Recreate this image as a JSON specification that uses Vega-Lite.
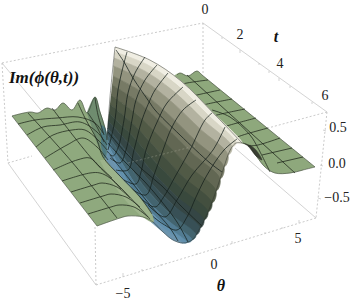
{"$schema":"https://vega.github.io/schema/vega-lite/v6.json","width":355,"height":302,"padding":0,"autosize":{"type":"fit","contains":"padding"},"background":"white","config":{"view":{"stroke":null},"range":{"category":["#f0eee3","#d8d6c6","#b3b2a0","#93947f","#777a65","#626753","#515a46","#434f3f","#39493d","#354645","#385056","#43646f","#527c93","#6290ad","#6b93ad","#8ea87c","#8fa97e","#6f8c6f","#4f7a80","#9db48b","#3a3f33"]}},
"datasets":{
"edgesDashed":[{"id":"a","n":0,"sx":2,"sy":63},{"id":"a","n":1,"sx":203,"sy":23},{"id":"b","n":0,"sx":2,"sy":63},{"id":"b","n":1,"sx":8,"sy":163},{"id":"c","n":0,"sx":8,"sy":163},{"id":"c","n":1,"sx":32,"sy":156},{"id":"d","n":0,"sx":327,"sy":112},{"id":"d","n":1,"sx":268,"sy":128},{"id":"e","n":0,"sx":203,"sy":23},{"id":"e","n":1,"sx":203,"sy":74},{"id":"f","n":0,"sx":96,"sy":285},{"id":"f","n":1,"sx":95,"sy":226},{"id":"g","n":0,"sx":96,"sy":285},{"id":"g","n":1,"sx":316,"sy":218},{"id":"h","n":0,"sx":327,"sy":112},{"id":"h","n":1,"sx":316,"sy":218}],
"edgesSolid":[{"id":"a","n":0,"sx":203,"sy":23},{"id":"a","n":1,"sx":327,"sy":112},{"id":"b","n":0,"sx":2,"sy":63},{"id":"b","n":1,"sx":45,"sy":115},{"id":"c","n":0,"sx":8,"sy":163},{"id":"c","n":1,"sx":96,"sy":285},{"id":"d","n":0,"sx":316,"sy":218},{"id":"d","n":1,"sx":235,"sy":148},{"id":"t1","n":0,"sx":222,"sy":37},{"id":"t1","n":1,"sx":222,"sy":39},{"id":"t2","n":0,"sx":240,"sy":50},{"id":"t2","n":1,"sx":240,"sy":53},{"id":"t3","n":0,"sx":259,"sy":63},{"id":"t3","n":1,"sx":259,"sy":65},{"id":"t4","n":0,"sx":269,"sy":71},{"id":"t4","n":1,"sx":269,"sy":73},{"id":"t5","n":0,"sx":279,"sy":78},{"id":"t5","n":1,"sx":279,"sy":81},{"id":"t6","n":0,"sx":290,"sy":86},{"id":"t6","n":1,"sx":290,"sy":88},{"id":"t7","n":0,"sx":312,"sy":102},{"id":"t7","n":1,"sx":312,"sy":104},{"id":"u1","n":0,"sx":123,"sy":277},{"id":"u1","n":1,"sx":123,"sy":273},{"id":"u2","n":0,"sx":142,"sy":271},{"id":"u2","n":1,"sx":142,"sy":269},{"id":"u3","n":0,"sx":161,"sy":266},{"id":"u3","n":1,"sx":161,"sy":264},{"id":"u4","n":0,"sx":197,"sy":255},{"id":"u4","n":1,"sx":197,"sy":253},{"id":"u5","n":0,"sx":232,"sy":244},{"id":"u5","n":1,"sx":232,"sy":241},{"id":"u6","n":0,"sx":265,"sy":234},{"id":"u6","n":1,"sx":265,"sy":232},{"id":"u7","n":0,"sx":282,"sy":229},{"id":"u7","n":1,"sx":282,"sy":227},{"id":"u8","n":0,"sx":299,"sy":223},{"id":"u8","n":1,"sx":299,"sy":220},{"id":"z1","n":0,"sx":323,"sy":130},{"id":"z1","n":1,"sx":326,"sy":131},{"id":"z2","n":0,"sx":320,"sy":165},{"id":"z2","n":1,"sx":323,"sy":166},{"id":"z3","n":0,"sx":318,"sy":198},{"id":"z3","n":1,"sx":321,"sy":199}],
"polyBack":[{"id":"r","n":0,"sx":315,"sy":167,"band":"b15"},{"id":"r","n":1,"sx":202,"sy":75,"band":"b15"},{"id":"r","n":2,"sx":197,"sy":71,"band":"b15"},{"id":"r","n":3,"sx":188,"sy":76,"band":"b15"},{"id":"r","n":4,"sx":180,"sy":73,"band":"b15"},{"id":"r","n":5,"sx":172,"sy":78,"band":"b15"},{"id":"r","n":6,"sx":165,"sy":90,"band":"b15"},{"id":"r","n":7,"sx":242,"sy":143,"band":"b15"},{"id":"r","n":8,"sx":248,"sy":145,"band":"b15"},{"id":"r","n":9,"sx":257,"sy":157,"band":"b15"},{"id":"r","n":10,"sx":265,"sy":167,"band":"b15"},{"id":"r","n":11,"sx":275,"sy":173,"band":"b15"},{"id":"r","n":12,"sx":290,"sy":173,"band":"b15"},{"id":"r","n":13,"sx":303,"sy":170,"band":"b15"},{"id":"s","n":0,"sx":243,"sy":143,"band":"b20"},{"id":"s","n":1,"sx":248,"sy":146,"band":"b20"},{"id":"s","n":2,"sx":256,"sy":156,"band":"b20"},{"id":"s","n":3,"sx":262,"sy":160,"band":"b20"},{"id":"s","n":4,"sx":256,"sy":150,"band":"b20"},{"id":"s","n":5,"sx":250,"sy":145,"band":"b20"}],
"meshBack":[{"id":"a","n":0,"sx":175,"sy":86},{"id":"a","n":1,"sx":187,"sy":83},{"id":"a","n":2,"sx":208,"sy":80},{"id":"b","n":0,"sx":185,"sy":98},{"id":"b","n":1,"sx":197,"sy":95},{"id":"b","n":2,"sx":220,"sy":90},{"id":"c","n":0,"sx":190,"sy":109},{"id":"c","n":1,"sx":203,"sy":105},{"id":"c","n":2,"sx":232,"sy":99},{"id":"d","n":0,"sx":204,"sy":119},{"id":"d","n":1,"sx":217,"sy":115},{"id":"d","n":2,"sx":245,"sy":109},{"id":"e","n":0,"sx":217,"sy":129},{"id":"e","n":1,"sx":230,"sy":125},{"id":"e","n":2,"sx":256,"sy":118},{"id":"f","n":0,"sx":232,"sy":139},{"id":"f","n":1,"sx":243,"sy":135},{"id":"f","n":2,"sx":268,"sy":128},{"id":"g","n":0,"sx":248,"sy":146},{"id":"g","n":1,"sx":258,"sy":145},{"id":"g","n":2,"sx":280,"sy":138},{"id":"h","n":0,"sx":262,"sy":155},{"id":"h","n":1,"sx":292,"sy":148},{"id":"i","n":0,"sx":277,"sy":163},{"id":"i","n":1,"sx":303,"sy":157},{"id":"p1","n":0,"sx":187,"sy":75},{"id":"p1","n":1,"sx":295,"sy":173},{"id":"p2","n":0,"sx":212,"sy":110},{"id":"p2","n":1,"sx":230,"sy":117},{"id":"p2","n":2,"sx":250,"sy":135},{"id":"p2","n":3,"sx":258,"sy":148},{"id":"p2","n":4,"sx":270,"sy":172}],
"flank":[
{"id":"f00","n":0,"sx":115,"sy":47,"band":"b00"},{"id":"f00","n":1,"sx":149.8,"sy":60,"band":"b00"},{"id":"f00","n":2,"sx":181,"sy":81,"band":"b00"},{"id":"f00","n":3,"sx":213.3,"sy":113,"band":"b00"},{"id":"f00","n":4,"sx":242,"sy":143,"band":"b00"},{"id":"f00","n":5,"sx":236,"sy":143,"band":"b00"},{"id":"f00","n":6,"sx":208,"sy":115.1,"band":"b00"},{"id":"f00","n":7,"sx":176.9,"sy":85,"band":"b00"},{"id":"f00","n":8,"sx":147.2,"sy":64.6,"band":"b00"},{"id":"f00","n":9,"sx":114.5,"sy":52,"band":"b00"},
{"id":"f01","n":0,"sx":114.5,"sy":52,"band":"b01"},{"id":"f01","n":1,"sx":147.2,"sy":64.6,"band":"b01"},{"id":"f01","n":2,"sx":176.9,"sy":85,"band":"b01"},{"id":"f01","n":3,"sx":208,"sy":115.1,"band":"b01"},{"id":"f01","n":4,"sx":236,"sy":143,"band":"b01"},{"id":"f01","n":5,"sx":232,"sy":147,"band":"b01"},{"id":"f01","n":6,"sx":204.2,"sy":120.5,"band":"b01"},{"id":"f01","n":7,"sx":173.8,"sy":91.5,"band":"b01"},{"id":"f01","n":8,"sx":145.1,"sy":71.2,"band":"b01"},{"id":"f01","n":9,"sx":114,"sy":58,"band":"b01"},
{"id":"f02","n":0,"sx":114,"sy":58,"band":"b02"},{"id":"f02","n":1,"sx":145.1,"sy":71.2,"band":"b02"},{"id":"f02","n":2,"sx":173.8,"sy":91.5,"band":"b02"},{"id":"f02","n":3,"sx":204.2,"sy":120.5,"band":"b02"},{"id":"f02","n":4,"sx":232,"sy":147,"band":"b02"},{"id":"f02","n":5,"sx":228,"sy":155,"band":"b02"},{"id":"f02","n":6,"sx":200.5,"sy":129.3,"band":"b02"},{"id":"f02","n":7,"sx":170.7,"sy":101,"band":"b02"},{"id":"f02","n":8,"sx":143,"sy":80,"band":"b02"},{"id":"f02","n":9,"sx":113.5,"sy":66,"band":"b02"},
{"id":"f03","n":0,"sx":113.5,"sy":66,"band":"b03"},{"id":"f03","n":1,"sx":143,"sy":80,"band":"b03"},{"id":"f03","n":2,"sx":170.7,"sy":101,"band":"b03"},{"id":"f03","n":3,"sx":200.5,"sy":129.3,"band":"b03"},{"id":"f03","n":4,"sx":228,"sy":155,"band":"b03"},{"id":"f03","n":5,"sx":224,"sy":167,"band":"b03"},{"id":"f03","n":6,"sx":196.7,"sy":141.7,"band":"b03"},{"id":"f03","n":7,"sx":167.6,"sy":113.5,"band":"b03"},{"id":"f03","n":8,"sx":140.9,"sy":91.5,"band":"b03"},{"id":"f03","n":9,"sx":113,"sy":76,"band":"b03"},
{"id":"f04","n":0,"sx":113,"sy":76,"band":"b04"},{"id":"f04","n":1,"sx":140.9,"sy":91.5,"band":"b04"},{"id":"f04","n":2,"sx":167.6,"sy":113.5,"band":"b04"},{"id":"f04","n":3,"sx":196.7,"sy":141.7,"band":"b04"},{"id":"f04","n":4,"sx":224,"sy":167,"band":"b04"},{"id":"f04","n":5,"sx":220,"sy":179,"band":"b04"},{"id":"f04","n":6,"sx":192.8,"sy":153.8,"band":"b04"},{"id":"f04","n":7,"sx":164.2,"sy":125.5,"band":"b04"},{"id":"f04","n":8,"sx":138.4,"sy":102,"band":"b04"},{"id":"f04","n":9,"sx":112,"sy":85,"band":"b04"},
{"id":"f05","n":0,"sx":112,"sy":85,"band":"b05"},{"id":"f05","n":1,"sx":138.4,"sy":102,"band":"b05"},{"id":"f05","n":2,"sx":164.2,"sy":125.5,"band":"b05"},{"id":"f05","n":3,"sx":192.8,"sy":153.8,"band":"b05"},{"id":"f05","n":4,"sx":220,"sy":179,"band":"b05"},{"id":"f05","n":5,"sx":216,"sy":191,"band":"b05"},{"id":"f05","n":6,"sx":188.9,"sy":166.1,"band":"b05"},{"id":"f05","n":7,"sx":160.9,"sy":138,"band":"b05"},{"id":"f05","n":8,"sx":136,"sy":113.6,"band":"b05"},{"id":"f05","n":9,"sx":111,"sy":95,"band":"b05"},
{"id":"f06","n":0,"sx":111,"sy":95,"band":"b06"},{"id":"f06","n":1,"sx":136,"sy":113.6,"band":"b06"},{"id":"f06","n":2,"sx":160.9,"sy":138,"band":"b06"},{"id":"f06","n":3,"sx":188.9,"sy":166.1,"band":"b06"},{"id":"f06","n":4,"sx":216,"sy":191,"band":"b06"},{"id":"f06","n":5,"sx":212,"sy":203,"band":"b06"},{"id":"f06","n":6,"sx":185,"sy":178.3,"band":"b06"},{"id":"f06","n":7,"sx":157.5,"sy":150,"band":"b06"},{"id":"f06","n":8,"sx":133.5,"sy":124.3,"band":"b06"},{"id":"f06","n":9,"sx":110,"sy":104,"band":"b06"},
{"id":"f07","n":0,"sx":110,"sy":104,"band":"b07"},{"id":"f07","n":1,"sx":133.5,"sy":124.3,"band":"b07"},{"id":"f07","n":2,"sx":157.5,"sy":150,"band":"b07"},{"id":"f07","n":3,"sx":185,"sy":178.3,"band":"b07"},{"id":"f07","n":4,"sx":212,"sy":203,"band":"b07"},{"id":"f07","n":5,"sx":208,"sy":212,"band":"b07"},{"id":"f07","n":6,"sx":181.1,"sy":188.1,"band":"b07"},{"id":"f07","n":7,"sx":154.1,"sy":160.5,"band":"b07"},{"id":"f07","n":8,"sx":131,"sy":134.2,"band":"b07"},{"id":"f07","n":9,"sx":109,"sy":113,"band":"b07"},
{"id":"f08","n":0,"sx":109,"sy":113,"band":"b08"},{"id":"f08","n":1,"sx":131,"sy":134.2,"band":"b08"},{"id":"f08","n":2,"sx":154.1,"sy":160.5,"band":"b08"},{"id":"f08","n":3,"sx":181.1,"sy":188.1,"band":"b08"},{"id":"f08","n":4,"sx":208,"sy":212,"band":"b08"},{"id":"f08","n":5,"sx":204,"sy":220,"band":"b08"},{"id":"f08","n":6,"sx":177.2,"sy":197,"band":"b08"},{"id":"f08","n":7,"sx":150.8,"sy":170,"band":"b08"},{"id":"f08","n":8,"sx":128.6,"sy":143.1,"band":"b08"},{"id":"f08","n":9,"sx":108,"sy":121,"band":"b08"},
{"id":"f09","n":0,"sx":108,"sy":121,"band":"b09"},{"id":"f09","n":1,"sx":128.6,"sy":143.1,"band":"b09"},{"id":"f09","n":2,"sx":150.8,"sy":170,"band":"b09"},{"id":"f09","n":3,"sx":177.2,"sy":197,"band":"b09"},{"id":"f09","n":4,"sx":204,"sy":220,"band":"b09"},{"id":"f09","n":5,"sx":200,"sy":228,"band":"b09"},{"id":"f09","n":6,"sx":173.5,"sy":205.6,"band":"b09"},{"id":"f09","n":7,"sx":147.6,"sy":179,"band":"b09"},{"id":"f09","n":8,"sx":126.5,"sy":151.3,"band":"b09"},{"id":"f09","n":9,"sx":107.5,"sy":128,"band":"b09"},
{"id":"f10","n":0,"sx":107.5,"sy":128,"band":"b10"},{"id":"f10","n":1,"sx":126.5,"sy":151.3,"band":"b10"},{"id":"f10","n":2,"sx":147.6,"sy":179,"band":"b10"},{"id":"f10","n":3,"sx":173.5,"sy":205.6,"band":"b10"},{"id":"f10","n":4,"sx":200,"sy":228,"band":"b10"},{"id":"f10","n":5,"sx":196,"sy":235,"band":"b10"},{"id":"f10","n":6,"sx":169.6,"sy":213.2,"band":"b10"},{"id":"f10","n":7,"sx":144.5,"sy":187,"band":"b10"},{"id":"f10","n":8,"sx":124.4,"sy":158.5,"band":"b10"},{"id":"f10","n":9,"sx":107,"sy":134,"band":"b10"},
{"id":"f11","n":0,"sx":107,"sy":134,"band":"b11"},{"id":"f11","n":1,"sx":124.4,"sy":158.5,"band":"b11"},{"id":"f11","n":2,"sx":144.5,"sy":187,"band":"b11"},{"id":"f11","n":3,"sx":169.6,"sy":213.2,"band":"b11"},{"id":"f11","n":4,"sx":196,"sy":235,"band":"b11"},{"id":"f11","n":5,"sx":192,"sy":240,"band":"b11"},{"id":"f11","n":6,"sx":165.9,"sy":218.8,"band":"b11"},{"id":"f11","n":7,"sx":141.5,"sy":193,"band":"b11"},{"id":"f11","n":8,"sx":122.3,"sy":163.6,"band":"b11"},{"id":"f11","n":9,"sx":106.5,"sy":138,"band":"b11"},
{"id":"f12","n":0,"sx":106.5,"sy":138,"band":"b12"},{"id":"f12","n":1,"sx":122.3,"sy":163.6,"band":"b12"},{"id":"f12","n":2,"sx":141.5,"sy":193,"band":"b12"},{"id":"f12","n":3,"sx":165.9,"sy":218.8,"band":"b12"},{"id":"f12","n":4,"sx":192,"sy":240,"band":"b12"},{"id":"f12","n":5,"sx":187,"sy":242.5,"band":"b12"},{"id":"f12","n":6,"sx":161.4,"sy":222.2,"band":"b12"},{"id":"f12","n":7,"sx":137.9,"sy":197.3,"band":"b12"},{"id":"f12","n":8,"sx":120,"sy":167.5,"band":"b12"},{"id":"f12","n":9,"sx":106,"sy":141,"band":"b12"},
{"id":"f13","n":0,"sx":106,"sy":141,"band":"b13"},{"id":"f13","n":1,"sx":120,"sy":167.5,"band":"b13"},{"id":"f13","n":2,"sx":137.9,"sy":197.3,"band":"b13"},{"id":"f13","n":3,"sx":161.4,"sy":222.2,"band":"b13"},{"id":"f13","n":4,"sx":187,"sy":242.5,"band":"b13"},{"id":"f13","n":5,"sx":183,"sy":243,"band":"b13"},{"id":"f13","n":6,"sx":158,"sy":224,"band":"b13"},{"id":"f13","n":7,"sx":135,"sy":200,"band":"b13"},{"id":"f13","n":8,"sx":118,"sy":170,"band":"b13"},{"id":"f13","n":9,"sx":106,"sy":143,"band":"b13"},
{"id":"v","n":0,"sx":106,"sy":143,"band":"b14"},{"id":"v","n":1,"sx":118,"sy":170,"band":"b14"},{"id":"v","n":2,"sx":135,"sy":200,"band":"b14"},{"id":"v","n":3,"sx":158,"sy":224,"band":"b14"},{"id":"v","n":4,"sx":183,"sy":243,"band":"b14"},{"id":"v","n":5,"sx":173,"sy":240,"band":"b14"},{"id":"v","n":6,"sx":163,"sy":232,"band":"b14"},{"id":"v","n":7,"sx":150,"sy":221,"band":"b14"},{"id":"v","n":8,"sx":122,"sy":196,"band":"b14"},{"id":"v","n":9,"sx":98,"sy":155,"band":"b14"}],
"meshFlank":[
{"id":"j1","n":0,"sx":127,"sy":52},{"id":"j1","n":1,"sx":123,"sy":67},{"id":"j1","n":2,"sx":118,"sy":90},{"id":"j1","n":3,"sx":115,"sy":120},{"id":"j1","n":4,"sx":108,"sy":150},
{"id":"j2","n":0,"sx":145,"sy":57},{"id":"j2","n":1,"sx":135,"sy":73},{"id":"j2","n":2,"sx":128,"sy":93},{"id":"j2","n":3,"sx":124,"sy":120},{"id":"j2","n":4,"sx":118,"sy":148},{"id":"j2","n":5,"sx":113,"sy":156},{"id":"j2","n":6,"sx":106,"sy":150},
{"id":"j3","n":0,"sx":157,"sy":65},{"id":"j3","n":1,"sx":145,"sy":80},{"id":"j3","n":2,"sx":136,"sy":100},{"id":"j3","n":3,"sx":132,"sy":120},{"id":"j3","n":4,"sx":126,"sy":150},{"id":"j3","n":5,"sx":120,"sy":163},{"id":"j3","n":6,"sx":110,"sy":158},
{"id":"j4","n":0,"sx":168,"sy":73},{"id":"j4","n":1,"sx":155,"sy":90},{"id":"j4","n":2,"sx":150,"sy":100},{"id":"j4","n":3,"sx":142,"sy":120},{"id":"j4","n":4,"sx":134,"sy":150},{"id":"j4","n":5,"sx":128,"sy":170},{"id":"j4","n":6,"sx":116,"sy":170},
{"id":"j5","n":0,"sx":183,"sy":87},{"id":"j5","n":1,"sx":167,"sy":103},{"id":"j5","n":2,"sx":158,"sy":120},{"id":"j5","n":3,"sx":146,"sy":150},{"id":"j5","n":4,"sx":141,"sy":172},{"id":"j5","n":5,"sx":136,"sy":184},{"id":"j5","n":6,"sx":124,"sy":180},
{"id":"j6","n":0,"sx":196,"sy":100},{"id":"j6","n":1,"sx":183,"sy":110},{"id":"j6","n":2,"sx":172,"sy":127},{"id":"j6","n":3,"sx":163,"sy":150},{"id":"j6","n":4,"sx":154,"sy":175},{"id":"j6","n":5,"sx":146,"sy":195},{"id":"j6","n":6,"sx":130,"sy":188},
{"id":"j7","n":0,"sx":212,"sy":113},{"id":"j7","n":1,"sx":205,"sy":120},{"id":"j7","n":2,"sx":190,"sy":150},{"id":"j7","n":3,"sx":176,"sy":175},{"id":"j7","n":4,"sx":163,"sy":198},{"id":"j7","n":5,"sx":155,"sy":207},{"id":"j7","n":6,"sx":138,"sy":196},
{"id":"j8","n":0,"sx":225,"sy":127},{"id":"j8","n":1,"sx":213,"sy":150},{"id":"j8","n":2,"sx":192,"sy":175},{"id":"j8","n":3,"sx":177,"sy":200},{"id":"j8","n":4,"sx":165,"sy":217},{"id":"j8","n":5,"sx":148,"sy":205},
{"id":"j9","n":0,"sx":237,"sy":139},{"id":"j9","n":1,"sx":224,"sy":150},{"id":"j9","n":2,"sx":207,"sy":175},{"id":"j9","n":3,"sx":196,"sy":197},{"id":"j9","n":4,"sx":187,"sy":217},{"id":"j9","n":5,"sx":177,"sy":230},{"id":"j9","n":6,"sx":163,"sy":224},{"id":"j9","n":7,"sx":150,"sy":214},
{"id":"F1","n":0,"sx":108,"sy":132},{"id":"F1","n":1,"sx":125,"sy":152},{"id":"F1","n":2,"sx":143,"sy":170},{"id":"F1","n":3,"sx":162,"sy":186},{"id":"F1","n":4,"sx":180,"sy":205},{"id":"F1","n":5,"sx":202,"sy":226},
{"id":"F2","n":0,"sx":108,"sy":143},{"id":"F2","n":1,"sx":125,"sy":162},{"id":"F2","n":2,"sx":145,"sy":182},{"id":"F2","n":3,"sx":162,"sy":202},{"id":"F2","n":4,"sx":177,"sy":222},{"id":"F2","n":5,"sx":188,"sy":242},
{"id":"F3","n":0,"sx":116,"sy":50},{"id":"F3","n":1,"sx":124,"sy":62},{"id":"F3","n":2,"sx":133,"sy":78},{"id":"F3","n":3,"sx":150,"sy":103},{"id":"F3","n":4,"sx":155,"sy":110},{"id":"F3","n":5,"sx":180,"sy":135},{"id":"F3","n":6,"sx":210,"sy":163},{"id":"F3","n":7,"sx":222,"sy":172},
{"id":"L4","n":0,"sx":110,"sy":155},{"id":"L4","n":1,"sx":130,"sy":180},{"id":"L4","n":2,"sx":150,"sy":205},{"id":"L4","n":3,"sx":170,"sy":228},{"id":"L4","n":4,"sx":178,"sy":241}],
"polyFront":[
{"id":"l","n":0,"sx":12,"sy":116,"band":"b16"},{"id":"l","n":1,"sx":30,"sy":112,"band":"b16"},{"id":"l","n":2,"sx":38,"sy":113,"band":"b16"},{"id":"l","n":3,"sx":47,"sy":108,"band":"b16"},{"id":"l","n":4,"sx":55,"sy":110,"band":"b16"},{"id":"l","n":5,"sx":63,"sy":103,"band":"b16"},{"id":"l","n":6,"sx":72,"sy":110,"band":"b16"},{"id":"l","n":7,"sx":80,"sy":100,"band":"b16"},{"id":"l","n":8,"sx":87,"sy":113,"band":"b16"},{"id":"l","n":9,"sx":95,"sy":97,"band":"b16"},{"id":"l","n":10,"sx":100,"sy":112,"band":"b16"},{"id":"l","n":11,"sx":105,"sy":128,"band":"b16"},{"id":"l","n":12,"sx":107,"sy":140,"band":"b16"},{"id":"l","n":13,"sx":105,"sy":158,"band":"b16"},{"id":"l","n":14,"sx":120,"sy":177,"band":"b16"},{"id":"l","n":15,"sx":140,"sy":198,"band":"b16"},{"id":"l","n":16,"sx":152,"sy":215,"band":"b16"},{"id":"l","n":17,"sx":153,"sy":222,"band":"b16"},{"id":"l","n":18,"sx":143,"sy":217,"band":"b16"},{"id":"l","n":19,"sx":128,"sy":216,"band":"b16"},{"id":"l","n":20,"sx":120,"sy":218,"band":"b16"},{"id":"l","n":21,"sx":97,"sy":226,"band":"b16"},
{"id":"m","n":0,"sx":87,"sy":113,"band":"b17"},{"id":"m","n":1,"sx":95,"sy":97,"band":"b17"},{"id":"m","n":2,"sx":100,"sy":112,"band":"b17"},{"id":"m","n":3,"sx":105,"sy":128,"band":"b17"},{"id":"m","n":4,"sx":107,"sy":140,"band":"b17"},{"id":"m","n":5,"sx":105,"sy":158,"band":"b17"},{"id":"m","n":6,"sx":98,"sy":145,"band":"b17"},{"id":"m","n":7,"sx":92,"sy":128,"band":"b17"},
{"id":"q","n":0,"sx":101,"sy":125,"band":"b18"},{"id":"q","n":1,"sx":105,"sy":128,"band":"b18"},{"id":"q","n":2,"sx":107,"sy":140,"band":"b18"},{"id":"q","n":3,"sx":105,"sy":158,"band":"b18"},{"id":"q","n":4,"sx":101,"sy":145,"band":"b18"},
{"id":"w","n":0,"sx":105,"sy":160,"band":"b19"},{"id":"w","n":1,"sx":120,"sy":177,"band":"b19"},{"id":"w","n":2,"sx":140,"sy":198,"band":"b19"},{"id":"w","n":3,"sx":152,"sy":215,"band":"b19"},{"id":"w","n":4,"sx":153,"sy":222,"band":"b19"},{"id":"w","n":5,"sx":143,"sy":217,"band":"b19"},{"id":"w","n":6,"sx":128,"sy":203,"band":"b19"},{"id":"w","n":7,"sx":112,"sy":182,"band":"b19"},{"id":"w","n":8,"sx":100,"sy":160,"band":"b19"}],
"meshFront":[
{"id":"j1","n":0,"sx":18,"sy":124},{"id":"j1","n":1,"sx":35,"sy":120},{"id":"j1","n":2,"sx":57,"sy":118},{"id":"j1","n":3,"sx":78,"sy":117},{"id":"j1","n":4,"sx":95,"sy":123},{"id":"j1","n":5,"sx":103,"sy":133},
{"id":"j2","n":0,"sx":27,"sy":135},{"id":"j2","n":1,"sx":43,"sy":127},{"id":"j2","n":2,"sx":60,"sy":125},{"id":"j2","n":3,"sx":80,"sy":122},{"id":"j2","n":4,"sx":97,"sy":132},{"id":"j2","n":5,"sx":107,"sy":145},
{"id":"j3","n":0,"sx":36,"sy":147},{"id":"j3","n":1,"sx":53,"sy":135},{"id":"j3","n":2,"sx":72,"sy":130},{"id":"j3","n":3,"sx":85,"sy":130},{"id":"j3","n":4,"sx":98,"sy":140},{"id":"j3","n":5,"sx":107,"sy":150},
{"id":"j4","n":0,"sx":45,"sy":158},{"id":"j4","n":1,"sx":67,"sy":145},{"id":"j4","n":2,"sx":83,"sy":138},{"id":"j4","n":3,"sx":97,"sy":147},{"id":"j4","n":4,"sx":108,"sy":160},
{"id":"j5","n":0,"sx":53,"sy":170},{"id":"j5","n":1,"sx":77,"sy":160},{"id":"j5","n":2,"sx":90,"sy":158},{"id":"j5","n":3,"sx":100,"sy":167},{"id":"j5","n":4,"sx":112,"sy":178},
{"id":"j6","n":0,"sx":62,"sy":181},{"id":"j6","n":1,"sx":90,"sy":173},{"id":"j6","n":2,"sx":100,"sy":173},{"id":"j6","n":3,"sx":110,"sy":178},{"id":"j6","n":4,"sx":121,"sy":189},
{"id":"j7","n":0,"sx":71,"sy":192},{"id":"j7","n":1,"sx":94,"sy":185},{"id":"j7","n":2,"sx":102,"sy":183},{"id":"j7","n":3,"sx":117,"sy":187},{"id":"j7","n":4,"sx":130,"sy":198},
{"id":"j8","n":0,"sx":80,"sy":203},{"id":"j8","n":1,"sx":103,"sy":196},{"id":"j8","n":2,"sx":111,"sy":194},{"id":"j8","n":3,"sx":126,"sy":197},{"id":"j8","n":4,"sx":140,"sy":207},
{"id":"j9","n":0,"sx":88,"sy":214},{"id":"j9","n":1,"sx":111,"sy":207},{"id":"j9","n":2,"sx":119,"sy":205},{"id":"j9","n":3,"sx":134,"sy":207},{"id":"j9","n":4,"sx":148,"sy":217},
{"id":"L1","n":0,"sx":28,"sy":113},{"id":"L1","n":1,"sx":72,"sy":162},{"id":"L1","n":2,"sx":117,"sy":218},
{"id":"L2","n":0,"sx":52,"sy":108},{"id":"L2","n":1,"sx":93,"sy":160},{"id":"L2","n":2,"sx":123,"sy":190},{"id":"L2","n":3,"sx":150,"sy":219},
{"id":"L3","n":0,"sx":78,"sy":103},{"id":"L3","n":1,"sx":85,"sy":118},{"id":"L3","n":2,"sx":97,"sy":140},{"id":"L3","n":3,"sx":103,"sy":157},{"id":"L3","n":4,"sx":120,"sy":176},{"id":"L3","n":5,"sx":140,"sy":197},{"id":"L3","n":6,"sx":152,"sy":214},
{"id":"L4","n":0,"sx":88,"sy":113},{"id":"L4","n":1,"sx":97,"sy":127},{"id":"L4","n":2,"sx":104,"sy":142},
{"id":"L5","n":0,"sx":95,"sy":98},{"id":"L5","n":1,"sx":98,"sy":115},{"id":"L5","n":2,"sx":104,"sy":135}],
"outline":[
{"id":"near","n":0,"sx":97,"sy":226},{"id":"near","n":1,"sx":120,"sy":218},{"id":"near","n":2,"sx":128,"sy":216},{"id":"near","n":3,"sx":143,"sy":217},{"id":"near","n":4,"sx":153,"sy":222},{"id":"near","n":5,"sx":163,"sy":232},{"id":"near","n":6,"sx":173,"sy":240},{"id":"near","n":7,"sx":183,"sy":243},{"id":"near","n":8,"sx":192,"sy":240},{"id":"near","n":9,"sx":200,"sy":228},{"id":"near","n":10,"sx":208,"sy":212},{"id":"near","n":11,"sx":216,"sy":191},{"id":"near","n":12,"sx":224,"sy":167},{"id":"near","n":13,"sx":228,"sy":155},{"id":"near","n":14,"sx":232,"sy":147},{"id":"near","n":15,"sx":236,"sy":143},{"id":"near","n":16,"sx":242,"sy":143},{"id":"near","n":17,"sx":248,"sy":145},{"id":"near","n":18,"sx":257,"sy":157},{"id":"near","n":19,"sx":265,"sy":167},{"id":"near","n":20,"sx":275,"sy":173},{"id":"near","n":21,"sx":290,"sy":173},{"id":"near","n":22,"sx":303,"sy":170},{"id":"near","n":23,"sx":315,"sy":167},
{"id":"right","n":0,"sx":315,"sy":167},{"id":"right","n":1,"sx":202,"sy":75},
{"id":"left","n":0,"sx":97,"sy":226},{"id":"left","n":1,"sx":12,"sy":116},
{"id":"crest","n":0,"sx":107,"sy":140},{"id":"crest","n":1,"sx":110,"sy":97},{"id":"crest","n":2,"sx":115,"sy":47},{"id":"crest2","n":0,"sx":115,"sy":47},{"id":"crest2","n":1,"sx":149.8,"sy":60},{"id":"crest2","n":2,"sx":181,"sy":81},{"id":"crest2","n":3,"sx":213.3,"sy":113},{"id":"crest2","n":4,"sx":242,"sy":143},
{"id":"far","n":0,"sx":12,"sy":116},{"id":"far","n":1,"sx":30,"sy":112},{"id":"far","n":2,"sx":38,"sy":113},{"id":"far","n":3,"sx":47,"sy":108},{"id":"far","n":4,"sx":55,"sy":110},{"id":"far","n":5,"sx":63,"sy":103},{"id":"far","n":6,"sx":72,"sy":110},{"id":"far","n":7,"sx":80,"sy":100},{"id":"far","n":8,"sx":87,"sy":113},{"id":"far","n":9,"sx":95,"sy":97},{"id":"far","n":10,"sx":100,"sy":112},{"id":"far","n":11,"sx":105,"sy":128},{"id":"far","n":12,"sx":107,"sy":140},
{"id":"far2","n":0,"sx":202,"sy":75},{"id":"far2","n":1,"sx":197,"sy":71},{"id":"far2","n":2,"sx":188,"sy":76},{"id":"far2","n":3,"sx":180,"sy":73},{"id":"far2","n":4,"sx":177,"sy":75}],
"seeThrough":[{"id":"x","n":0,"sx":128,"sy":163},{"id":"x","n":1,"sx":195,"sy":146}],
"ticksText":[{"sx":205,"sy":10,"label":"0"},{"sx":240,"sy":35,"label":"2"},{"sx":280,"sy":64,"label":"4"},{"sx":325,"sy":96,"label":"6"},{"sx":338,"sy":128,"label":"0.5"},{"sx":337,"sy":164,"label":"0.0"},{"sx":337,"sy":198,"label":"−0.5"},{"sx":123,"sy":294,"label":"−5"},{"sx":214,"sy":265,"label":"0"},{"sx":298,"sy":239,"label":"5"}],
"titles":[{"sx":44,"sy":78,"label":"Im(ϕ(θ,t))","size":"title"},{"sx":276,"sy":37,"label":"t","size":"axis"},{"sx":221,"sy":286,"label":"θ","size":"axis"}]
},
"encoding":{"x":{"field":"sx","type":"quantitative","axis":null,"scale":{"domain":[0,355],"nice":false,"zero":false}},"y":{"field":"sy","type":"quantitative","axis":null,"scale":{"domain":[302,0],"nice":false,"zero":false}}},
"layer":[
{"data":{"name":"edgesDashed"},"mark":{"type":"line","stroke":"#bdbdbd","strokeWidth":0.8,"strokeDash":[2,2]},"encoding":{"detail":{"field":"id"},"order":{"field":"n"}}},
{"data":{"name":"edgesSolid"},"mark":{"type":"line","stroke":"#c8c8c8","strokeWidth":0.8},"encoding":{"detail":{"field":"id"},"order":{"field":"n"}}},
{"data":{"name":"polyBack"},"mark":{"type":"line","strokeWidth":0.5,"interpolate":"catmull-rom"},"encoding":{"detail":{"field":"id"},"order":{"field":"n"},"fill":{"field":"band","legend":null},"stroke":{"field":"band","legend":null}}},
{"data":{"name":"meshBack"},"mark":{"type":"line","stroke":"#20281c","strokeWidth":0.9,"opacity":0.85,"interpolate":"catmull-rom"},"encoding":{"detail":{"field":"id"},"order":{"field":"n"}}},
{"data":{"name":"flank"},"mark":{"type":"line","strokeWidth":0.7,"interpolate":"catmull-rom"},"encoding":{"detail":{"field":"id"},"order":{"field":"n"},"fill":{"field":"band","legend":null},"stroke":{"field":"band","legend":null}}},
{"data":{"name":"seeThrough"},"mark":{"type":"line","stroke":"#b9b9a8","strokeWidth":0.7,"strokeDash":[2,2],"opacity":0.5},"encoding":{"detail":{"field":"id"},"order":{"field":"n"}}},
{"data":{"name":"meshFlank"},"mark":{"type":"line","stroke":"#15201c","strokeWidth":0.9,"opacity":0.85,"interpolate":"catmull-rom"},"encoding":{"detail":{"field":"id"},"order":{"field":"n"}}},
{"data":{"name":"polyFront"},"mark":{"type":"line","strokeWidth":0.4,"interpolate":"catmull-rom"},"encoding":{"detail":{"field":"id"},"order":{"field":"n"},"fill":{"field":"band","legend":null},"stroke":{"field":"band","legend":null}}},
{"data":{"name":"meshFront"},"mark":{"type":"line","stroke":"#20281c","strokeWidth":0.9,"opacity":0.85,"interpolate":"catmull-rom"},"encoding":{"detail":{"field":"id"},"order":{"field":"n"}}},
{"data":{"name":"outline"},"mark":{"type":"line","stroke":"#2b2f28","strokeWidth":0.6,"opacity":0.8,"interpolate":"catmull-rom"},"encoding":{"detail":{"field":"id"},"order":{"field":"n"}}},
{"data":{"name":"ticksText"},"mark":{"type":"text","font":"Liberation Serif","fontSize":14,"fill":"#222222","align":"center","baseline":"middle"},"encoding":{"text":{"field":"label"}}},
{"data":{"name":"titles"},"transform":[{"filter":"datum.size==='title'"}],"mark":{"type":"text","font":"Liberation Serif","fontSize":17,"fontWeight":"bold","fontStyle":"italic","fill":"#111111","align":"center","baseline":"middle"},"encoding":{"text":{"field":"label"}}},
{"data":{"name":"titles"},"transform":[{"filter":"datum.size==='axis'"}],"mark":{"type":"text","font":"Liberation Serif","fontSize":16,"fontWeight":"bold","fontStyle":"italic","fill":"#111111","align":"center","baseline":"middle"},"encoding":{"text":{"field":"label"}}}
]}
